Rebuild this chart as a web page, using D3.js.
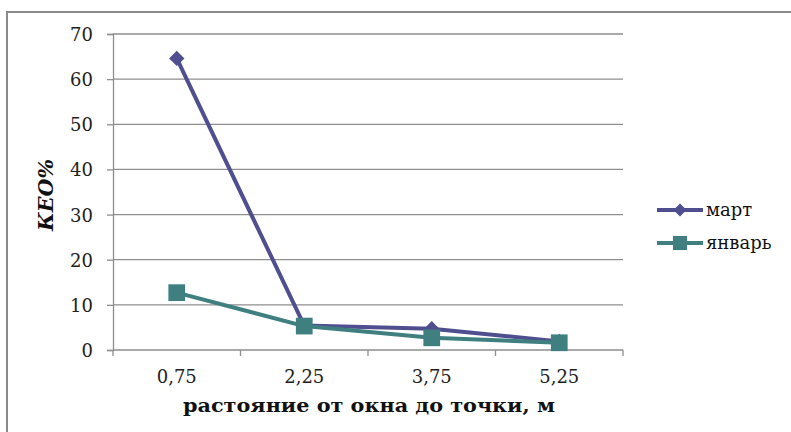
<!DOCTYPE html>
<html>
<head>
<meta charset="utf-8">
<script src="https://cdn.jsdelivr.net/npm/d3@7"></script>
<style>
  body { margin: 0; background: #fff; }
  svg { display: block; }
  text { font-family: "DejaVu Serif", "Liberation Serif", serif; }
</style>
</head>
<body>
<svg id="chart" width="791" height="432"></svg>
<script>
// distance from the window to the measurement point, m
const categories = ["0,75", "2,25", "3,75", "5,25"];
// daylight factor (КЕО, %) per month
const martValues = [64.6, 5.4, 4.7, 1.9];
const yanvarValues = [12.7, 5.3, 2.7, 1.6];
const yTicks = [0, 10, 20, 30, 40, 50, 60, 70];
const seriesNames = ["март", "январь"];
const seriesColors = ["#4F4F8F", "#3F7F80"];

const svg = d3.select("#chart");
const W = 791, H = 432;
const plot = { left: 113, right: 623, top: 34, bottom: 350 };

// outer chart frame (runs off the right and bottom edges)
svg.append("rect")
  .attr("x", 7).attr("y", 12)
  .attr("width", W).attr("height", H)
  .attr("fill", "#fff")
  .attr("stroke", "#8a8a8a").attr("stroke-width", 2);

const x = d3.scaleBand().domain(categories).range([plot.left, plot.right]).padding(0);
const y = d3.scaleLinear().domain([0, 70]).range([plot.bottom, plot.top]);

// horizontal gridlines
svg.append("g").selectAll("line").data(yTicks.filter(d => d > 0)).join("line")
  .attr("x1", plot.left).attr("x2", plot.right)
  .attr("y1", d => y(d)).attr("y2", d => y(d))
  .attr("stroke", "#8e8e8e").attr("stroke-width", 1.3);

// y axis
const yAxis = svg.append("g").attr("transform", `translate(${plot.left},0)`)
  .call(d3.axisLeft(y).tickValues(yTicks).tickSize(6).tickPadding(14));
yAxis.select(".domain").attr("stroke", "#8e8e8e").attr("stroke-width", 1.3);
yAxis.selectAll(".tick line").attr("stroke", "#8e8e8e").attr("stroke-width", 1.3);
yAxis.selectAll(".tick text")
  .attr("fill", "#222").style("font-size", "18px").attr("dy", "0.36em");

// x axis: ticks sit at category boundaries
const xAxisG = svg.append("g").attr("transform", `translate(0,${plot.bottom})`);
xAxisG.append("line")
  .attr("x1", plot.left).attr("x2", plot.right)
  .attr("stroke", "#8e8e8e").attr("stroke-width", 1.3);
const bounds = categories.map(c => x(c)).concat([x(categories[categories.length - 1]) + x.bandwidth()]);
xAxisG.selectAll("line.tk").data(bounds).join("line").attr("class", "tk")
  .attr("x1", d => d).attr("x2", d => d).attr("y1", 0).attr("y2", 6)
  .attr("stroke", "#8e8e8e").attr("stroke-width", 1.3);
xAxisG.selectAll("text").data(categories).join("text")
  .attr("x", d => x(d) + x.bandwidth() / 2).attr("y", 33)
  .attr("text-anchor", "middle").attr("fill", "#222")
  .style("font-size", "18px")
  .text(d => d);

// axis titles
svg.append("text")
  .attr("transform", "translate(53,195) rotate(-90)")
  .attr("text-anchor", "middle")
  .style("font-size", "21px").style("font-weight", "bold").style("font-style", "italic")
  .attr("fill", "#111")
  .attr("textLength", 72).attr("lengthAdjust", "spacingAndGlyphs")
  .text("КЕО%");
svg.append("text")
  .attr("x", 369).attr("y", 412)
  .attr("text-anchor", "middle")
  .style("font-size", "19px").style("font-weight", "bold")
  .attr("fill", "#111")
  .attr("textLength", 372).attr("lengthAdjust", "spacingAndGlyphs")
  .text("растояние от окна до точки, м");

const cx = d => x(d) + x.bandwidth() / 2;
const line = d3.line().x((v, i) => cx(categories[i])).y(v => y(v));

const series = [martValues, yanvarValues];
const diamond = d3.symbol().type(d3.symbolDiamond2).size(150);
const square = s => d3.symbol().type(d3.symbolSquare).size(s)();

series.forEach((vals, si) => {
  const g = svg.append("g");
  g.append("path").datum(vals)
    .attr("d", line).attr("fill", "none")
    .attr("stroke", seriesColors[si]).attr("stroke-width", 4)
    .attr("stroke-linejoin", "round");
  g.selectAll("path.m").data(vals).join("path").attr("class", "m")
    .attr("transform", (v, i) => `translate(${cx(categories[i])},${y(v)})`)
    .attr("d", si === 0 ? diamond() : square(280))
    .attr("fill", seriesColors[si]);
});

// legend
const legend = svg.append("g");
seriesNames.forEach((name, i) => {
  const ly = 210 + i * 33;
  legend.append("line")
    .attr("x1", 657).attr("x2", 703).attr("y1", ly).attr("y2", ly)
    .attr("stroke", seriesColors[i]).attr("stroke-width", 4);
  legend.append("path")
    .attr("transform", `translate(680,${ly})`)
    .attr("d", i === 0 ? d3.symbol().type(d3.symbolDiamond2).size(110)() : square(200))
    .attr("fill", seriesColors[i]);
  legend.append("text")
    .attr("x", 706).attr("y", ly + 6)
    .style("font-size", "18px").attr("fill", "#111")
    .text(name);
});
</script>
</body>
</html>
